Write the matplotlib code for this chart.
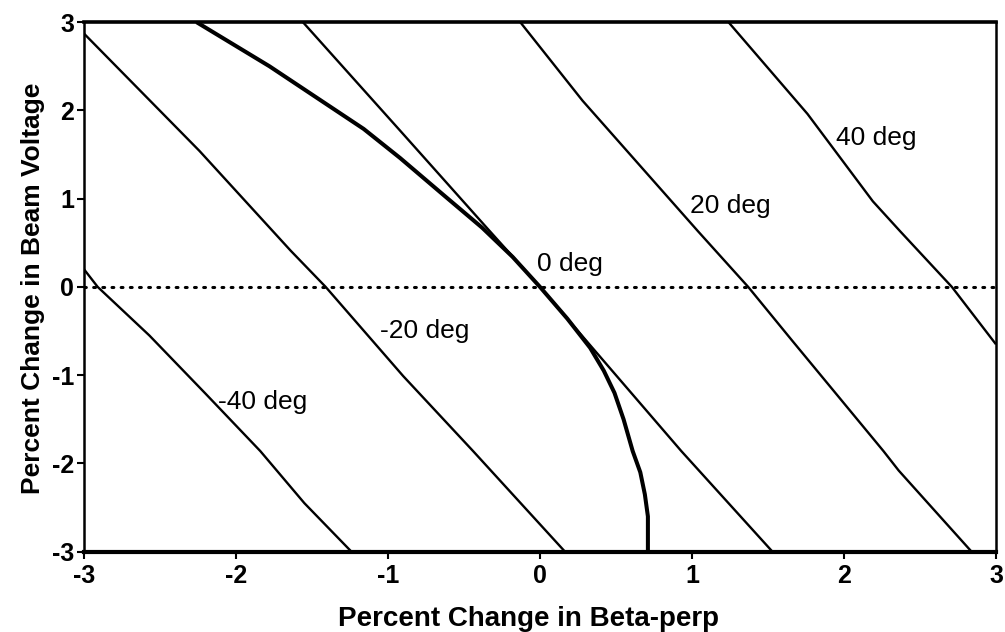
import matplotlib
matplotlib.use("Agg")
import matplotlib.pyplot as plt

plt.rcParams['font.family'] = ['Liberation Sans', 'DejaVu Sans']

# ---- data ----
m40_x = [-3.0, -2.91, -2.57, -2.20, -1.84, -1.55, -1.24]
m40_y = [0.20, 0.00, -0.55, -1.21, -1.86, -2.45, -3.00]

m20_x = [-3.0, -2.24, -1.64, -1.41, -0.90, -0.44, 0.165]
m20_y = [2.87, 1.54, 0.41, 0.00, -1.01, -1.86, -3.00]

z_thick_x = [-2.26, -1.78, -1.16, -0.92, -0.62, -0.38, -0.18, 0.00, 0.18,
             0.33, 0.42, 0.49, 0.55, 0.61, 0.66, 0.69, 0.71, 0.71]
z_thick_y = [3.00, 2.50, 1.79, 1.46, 1.02, 0.67, 0.34, 0.00, -0.36,
             -0.69, -0.95, -1.20, -1.50, -1.86, -2.10, -2.35, -2.60, -3.00]

z_thin_x = [-1.56, -0.92, -0.35, 0.00, 0.93, 1.53]
z_thin_y = [3.00, 1.77, 0.67, 0.00, -1.86, -3.00]

p20_x = [-0.13, 0.28, 1.04, 1.37, 1.66, 2.26, 2.36, 2.84]
p20_y = [3.00, 2.11, 0.63, 0.00, -0.61, -1.86, -2.08, -3.00]

p40_x = [1.24, 1.76, 2.19, 2.37, 2.71, 3.0]
p40_y = [3.00, 1.96, 0.97, 0.63, 0.00, -0.65]

ref_x = [-3.0, 3.0]
ref_y = [0.0, 0.0]

labels = ["40 deg", "20 deg", "0 deg", "-20 deg", "-40 deg"]
label_x = [1.95, 0.99, -0.02, -1.05, -2.12]
label_y = [1.69, 0.92, 0.26, -0.50, -1.30]

ticks = [-3, -2, -1, 0, 1, 2, 3]
tick_labels = ["-3", "-2", "-1", "0", "1", "2", "3"]

# ---- figure ----
fig = plt.figure(figsize=(10.05, 6.32), dpi=100)
ax = fig.add_axes([0.0836, 0.127, 0.9074, 0.838])

ax.plot(ref_x, ref_y, color='black', lw=2.2, linestyle=(0, (0.6, 2.4)),
        dash_capstyle='round')
thin = dict(color='black', lw=1.7, solid_capstyle='butt', solid_joinstyle='round')
ax.plot(m40_x, m40_y, **thin)
ax.plot(m20_x, m20_y, **thin)
ax.plot(z_thin_x, z_thin_y, **thin)
ax.plot(p20_x, p20_y, **thin)
ax.plot(p40_x, p40_y, **thin)
ax.plot(z_thick_x, z_thick_y, color='black', lw=2.9, solid_capstyle='butt',
        solid_joinstyle='round')

for t, x, y in zip(labels, label_x, label_y):
    ax.text(x, y, t, fontsize=19, ha='left', va='center', color='black')

ax.set_xlim(-3, 3)
ax.set_ylim(-3, 3)
ax.set_xticks(ticks)
ax.set_xticklabels(tick_labels, fontsize=18, fontweight='bold')
ax.set_yticks(ticks)
ax.set_yticklabels(tick_labels, fontsize=18, fontweight='bold')
ax.tick_params(direction='out', length=5, width=1.5, pad=2)
ax.tick_params(axis='x', pad=4)

for side, w in [('left', 1.8), ('right', 1.8), ('top', 2.6), ('bottom', 3.0)]:
    ax.spines[side].set_linewidth(w)

ax.set_xlabel("Percent Change in Beta-perp", fontsize=20, fontweight='bold',
              labelpad=13)
ax.xaxis.label.set_x(0.487)
ax.set_ylabel("Percent Change in Beam Voltage", fontsize=19, fontweight='bold',
              labelpad=5)
ax.yaxis.label.set_y(0.497)

fig.savefig("out.png", dpi=100)
